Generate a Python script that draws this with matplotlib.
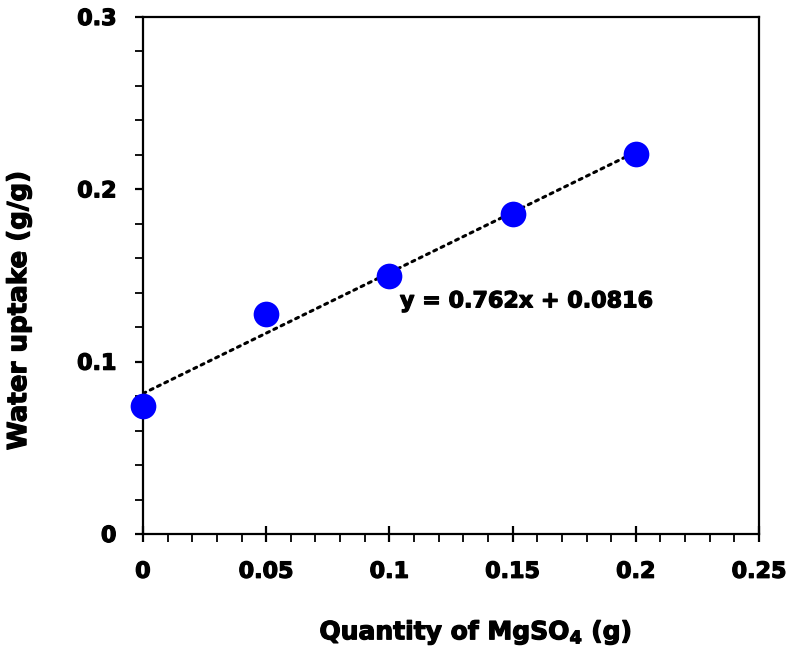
import numpy as np
import matplotlib
matplotlib.use("Agg")
import matplotlib.pyplot as plt
import matplotlib.patheffects as pe
from matplotlib.ticker import MultipleLocator

qty = [0.0, 0.05, 0.10, 0.15, 0.20]
uptake = [0.0743, 0.1277, 0.1497, 0.1857, 0.2205]
eq_label = 'y = 0.762x + 0.0816'
xticks = [0, 0.05, 0.1, 0.15, 0.2, 0.25]
xticklabels = ["0", "0.05", "0.1", "0.15", "0.2", "0.25"]
yticks = [0, 0.1, 0.2, 0.3]
yticklabels = ["0", "0.1", "0.2", "0.3"]

plt.rcParams['font.family'] = ['DejaVu Sans']
plt.rcParams['font.weight'] = 'bold'

heavy = [pe.withStroke(linewidth=0.9, foreground='black')]

fig = plt.figure(figsize=(7.89, 6.49), dpi=100)
ax = fig.add_axes([0.1812, 0.1772, 0.7808, 0.7966])

slope, intercept = np.polyfit(qty, uptake, 1)
fx = np.array([qty[0], qty[-1]])
ax.plot(fx, slope * fx + intercept, color='black', linestyle=':', lw=2.2,
        dash_capstyle='round', zorder=3)
ax.plot(qty, uptake, 'o', color='#0000FF', markersize=18.5, markeredgewidth=0,
        zorder=4, clip_on=False)

ax.set_xlim(0, 0.25)
ax.set_ylim(0, 0.3)
ax.set_xticks(xticks)
ax.set_xticklabels(xticklabels)
ax.set_yticks(yticks)
ax.set_yticklabels(yticklabels)
ax.xaxis.set_minor_locator(MultipleLocator(0.01))
ax.yaxis.set_minor_locator(MultipleLocator(0.02))

for s in ax.spines.values():
    s.set_linewidth(1.6)

ax.tick_params(axis='x', which='major', direction='inout', length=12, width=1.6,
               labelsize=16, pad=14)
ax.tick_params(axis='x', which='minor', direction='out', length=6, width=1.3)
ax.tick_params(axis='y', which='major', direction='out', length=6, width=1.6,
               labelsize=16, pad=13)
ax.tick_params(axis='y', which='minor', direction='out', length=6, width=1.3)
for lab in ax.get_xticklabels() + ax.get_yticklabels():
    lab.set_path_effects(heavy)

ax.set_xlabel(r'Quantity of MgSO$_\mathbf{4}$ (g)', fontsize=18, fontweight='bold',
              path_effects=heavy)
ax.xaxis.set_label_coords(0.54, -0.163)
ax.set_ylabel('Water uptake (g/g)', fontsize=18.8, fontweight='bold', path_effects=heavy)
ax.yaxis.set_label_coords(-0.18, 0.433)

ax.text(0.1043, 0.135, eq_label, fontsize=16, fontweight='bold',
        ha='left', va='center', path_effects=heavy)

fig.savefig('out.png', dpi=100)
